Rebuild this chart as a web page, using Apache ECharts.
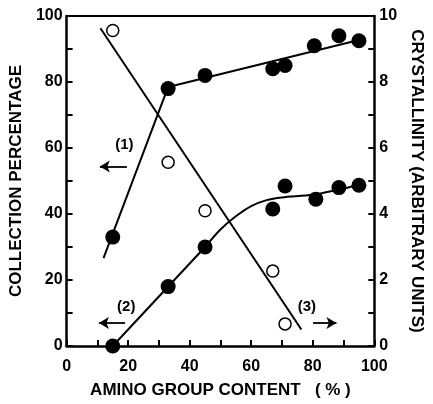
<!DOCTYPE html>
<html><head><meta charset="utf-8">
<script src="https://cdn.jsdelivr.net/npm/echarts@6/dist/echarts.min.js"></script>
<style>html,body{margin:0;padding:0;background:#fff}#c{width:433px;height:404px}</style>
</head><body><div id="c"></div>
<script>
// Curve (1): collection percentage, left axis
const s1Points = [[15,33],[33,78],[45,82],[67,84],[71,85],[80.5,91],[88.5,94],[95,92.5]];
const s1Line = [[12,26.6],[33,78.5],[97,93.2]];
// Curve (2): collection percentage, left axis
const s2Points = [[15,0],[33,18],[45,30],[67,41.5],[71,48.5],[81,44.5],[88.5,48],[95,48.7]];
const s2LineStraight = [[15,0],[45,30]];
const s2LineCurve = [[45,30],[50,35.3],[55,39.3],[60,42.4],[65,44.2],[70,45],[80,45.8],[88,47.3],[96,49]];
// Curve (3): crystallinity, right axis
const s3Points = [[15,9.56],[33,5.57],[45,4.1],[67,2.27],[71,0.67]];
const s3Line = [[11,9.63],[76.3,0.5]];
// Annotations (data coordinates, left axis)
const labels = [{value:[18.8,60.9],name:'(1)'},{value:[19.4,12],name:'(2)'},{value:[78.1,12],name:'(3)'}];
const arrows = [[[19.6,54.4],[10.8,54.4]],[[19.0,7.0],[10.5,7.0]],[[80.1,7.0],[87.7,7.0]]];
const xTicks = [0,20,40,60,80,100];

const font = 'Liberation Sans';
const black = '#000';
const W = 'bold';
const chart = echarts.init(document.getElementById('c'));
chart.setOption({
  animation:false,
  grid:{left:53,right:38,top:16,bottom:54,show:false},
  xAxis:[{type:'value',min:0,max:100,interval:10,
    name:'AMINO GROUP CONTENT   ( % )',nameLocation:'middle',nameGap:36,
    nameTextStyle:{fontFamily:font,fontSize:17,fontWeight:W,color:black},
    axisLine:{show:true,onZero:false,lineStyle:{color:black,width:2.5}},
    axisTick:{show:true,inside:true,length:6,lineStyle:{color:black,width:2}},
    splitLine:{show:false},
    axisLabel:{fontFamily:font,fontSize:16,fontWeight:W,color:black,margin:13,
      formatter:v=>xTicks.includes(v)?String(v):''}},
    {type:'value',min:0,max:100,position:'top',
    axisLine:{show:true,onZero:false,lineStyle:{color:black,width:2}},
    axisTick:{show:false},axisLabel:{show:false},splitLine:{show:false}}],
  yAxis:[
    {type:'value',min:0,max:100,interval:10,position:'left',
      name:'COLLECTION PERCENTAGE',nameLocation:'middle',nameGap:28,nameRotate:90,
      nameTextStyle:{fontFamily:font,fontSize:17,fontWeight:W,color:black},
      axisLine:{show:true,onZero:false,lineStyle:{color:black,width:2.5}},
      axisTick:{show:true,inside:true,length:6,lineStyle:{color:black,width:2}},
      splitLine:{show:false},
      axisLabel:{fontFamily:font,fontSize:16,fontWeight:W,color:black,margin:4,
        formatter:v=>v%20===0?String(v):''}},
    {type:'value',min:0,max:10,interval:1,position:'right',
      name:'CRYSTALLINITY (ARBITRARY UNITS)',nameLocation:'middle',nameGap:20,nameRotate:-90,
      nameTextStyle:{fontFamily:font,fontSize:17,fontWeight:W,color:black},
      axisLine:{show:true,onZero:false,lineStyle:{color:black,width:2.5}},
      axisTick:{show:true,inside:true,length:6,lineStyle:{color:black,width:2}},
      splitLine:{show:false},
      axisLabel:{fontFamily:font,fontSize:16,fontWeight:W,color:black,margin:5,
        formatter:v=>v%2===0?String(v):''}}
  ],
  series:[
    {type:'line',data:s1Line,symbol:'none',lineStyle:{color:black,width:2},z:2},
    {type:'line',data:s2LineStraight,symbol:'none',lineStyle:{color:black,width:2},z:2},
    {type:'line',data:s2LineCurve,symbol:'none',smooth:0.3,lineStyle:{color:black,width:2},z:2},
    {type:'line',data:s3Line,yAxisIndex:1,symbol:'none',lineStyle:{color:black,width:2},z:2},
    {type:'scatter',data:s1Points,symbolSize:15,itemStyle:{color:black,opacity:1},z:3},
    {type:'scatter',data:s2Points,symbolSize:15,itemStyle:{color:black,opacity:1},z:3},
    {type:'scatter',data:s3Points,yAxisIndex:1,symbolSize:12,itemStyle:{color:'#fff',borderColor:black,borderWidth:1.5,opacity:1},z:3},
    {type:'scatter',data:labels,symbolSize:1,itemStyle:{color:'rgba(0,0,0,0)',opacity:1},z:4,silent:true,
      label:{show:true,position:'inside',formatter:p=>p.name,fontFamily:font,fontSize:15,fontWeight:W,color:black,opacity:1}},
    {type:'line',data:[],z:4,silent:true,
      markLine:{silent:true,symbol:['none','arrow'],symbolSize:[9,10],animation:false,
        label:{show:false},lineStyle:{color:black,width:1.8,type:'solid',opacity:1},
        data:arrows.map(a=>[{coord:a[0]},{coord:a[1]}])}}
  ]
});
</script></body></html>
